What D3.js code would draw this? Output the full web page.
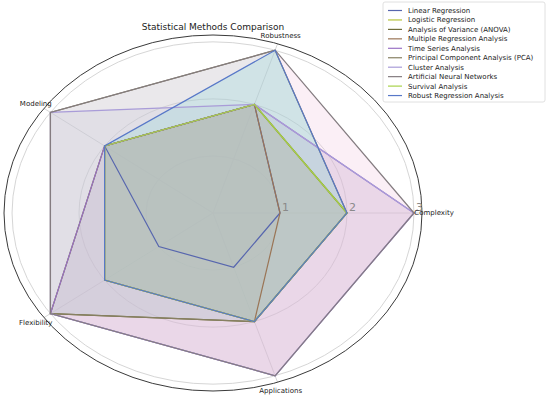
<!DOCTYPE html>
<html>
<head>
<meta charset="utf-8">
<script src="https://cdn.jsdelivr.net/npm/d3@7"></script>
<style>
  body { margin: 0; background: #fff; }
  svg { display: block; font-family: "DejaVu Sans", sans-serif; }
</style>
</head>
<body>
<svg id="chart" width="550" height="396"></svg>
<script>
// axes of the radar
const axes = ["Complexity", "Robustness", "Modeling", "Flexibility", "Applications"];
const rTicks = [1, 2, 3];

const methods = [
  "Linear Regression", "Logistic Regression", "Analysis of Variance (ANOVA)",
  "Multiple Regression Analysis", "Time Series Analysis",
  "Principal Component Analysis (PCA)", "Cluster Analysis",
  "Artificial Neural Networks", "Survival Analysis", "Robust Regression Analysis"
];

// scores per method, in axes order
const linearReg   = [1, 2, 2, 1, 1];
const logisticReg = [2, 2, 2, 2, 2];
const anova       = [2, 2, 2, 3, 2];
const multipleReg = [1, 2, 2, 2, 2];
const timeSeries  = [3, 2, 2, 3, 3];
const pca         = [2, 3, 3, 3, 2];
const cluster     = [3, 2, 3, 3, 3];
const ann         = [3, 3, 3, 3, 3];
const survival    = [2, 2, 2, 2, 2];
const robustReg   = [2, 3, 2, 2, 2];
const scores = [linearReg, logisticReg, anova, multipleReg, timeSeries,
                pca, cluster, ann, survival, robustReg];

const lineColors = ["#5766ae", "#b6c43c", "#6f6d3a", "#9a7556", "#9a72c6",
                    "#878062", "#a99cd8", "#847c80", "#a8d24a", "#5878c8"];
const fillColors = ["#8e9cb8", "#ccb878", "#98acbc", "#b08a6a", "#e4a0d0",
                    "#a4dcc8", "#b8c8d8", "#f0c0da", "#ccb084", "#84d4d8"];

const cx = 213, cy = 213;
const rMax = 3.12;
const rx = d3.scaleLinear().domain([0, rMax]).range([0, 209]);
const ry = d3.scaleLinear().domain([0, rMax]).range([0, 178]);
const angle = d3.scaleLinear().domain([0, axes.length]).range([0, 2 * Math.PI]);

function px(i, v) { return cx + rx(v) * Math.cos(angle(i)); }
function py(i, v) { return cy - ry(v) * Math.sin(angle(i)); }
const shape = s => d3.line()(s.map((v, i) => [px(i, v), py(i, v)])) + "Z";

const svg = d3.select("#chart");

// grid rings
svg.append("g").selectAll("ellipse").data(rTicks).join("ellipse")
  .attr("cx", cx).attr("cy", cy)
  .attr("rx", d => rx(d)).attr("ry", d => ry(d))
  .attr("fill", "none").attr("stroke", "#d6d6d6").attr("stroke-width", 1);

// spokes
svg.append("g").selectAll("line").data(axes).join("line")
  .attr("x1", cx).attr("y1", cy)
  .attr("x2", (d, i) => px(i, rMax)).attr("y2", (d, i) => py(i, rMax))
  .attr("stroke", "#d6d6d6").attr("stroke-width", 1);

// fills under all outlines (like matplotlib zorder)
svg.append("g").selectAll("path").data(scores).join("path")
  .attr("d", shape)
  .attr("fill", (d, k) => fillColors[k]).attr("fill-opacity", 0.25)
  .attr("stroke", "none");

svg.append("g").selectAll("path").data(scores).join("path")
  .attr("d", shape)
  .attr("fill", "none")
  .attr("stroke", (d, k) => lineColors[k]).attr("stroke-width", 1.2);

// outer frame
svg.append("ellipse")
  .attr("cx", cx).attr("cy", cy).attr("rx", rx(rMax)).attr("ry", ry(rMax))
  .attr("fill", "none").attr("stroke", "#3a3a3a").attr("stroke-width", 1);

// radial tick labels
svg.append("g").selectAll("text").data(rTicks).join("text")
  .attr("x", d => cx + rx(d) + 2).attr("y", cy - 2)
  .attr("font-size", 11).attr("fill", "#8a8a8a")
  .text(d => d);

// axis labels
const labelR = 3.27;
svg.append("g").selectAll("text").data(axes).join("text")
  .attr("x", (d, i) => px(i, i === 0 ? 3.3 : labelR))
  .attr("y", (d, i) => py(i, i === 0 ? 0 : labelR))
  .attr("dy", "0.35em")
  .attr("text-anchor", "middle")
  .attr("font-size", 7).attr("fill", "#222")
  .text(d => d);

// title
svg.append("text").attr("x", cx).attr("y", 30)
  .attr("text-anchor", "middle").attr("font-size", 9).attr("fill", "#222")
  .text("Statistical Methods Comparison");

// legend
const lg = svg.append("g").attr("transform", "translate(383,2)");
lg.append("rect").attr("width", 162).attr("height", 100).attr("rx", 2)
  .attr("fill", "#fff").attr("fill-opacity", 0.85)
  .attr("stroke", "#d8d8d8").attr("stroke-width", 0.8);
const items = lg.selectAll("g.item").data(methods).join("g")
  .attr("class", "item")
  .attr("transform", (d, i) => `translate(0,${8.5 + i * 9.45})`);
items.append("line").attr("x1", 5).attr("x2", 19)
  .attr("stroke", (d, i) => lineColors[i]).attr("stroke-width", 1.2);
items.append("text").attr("x", 25).attr("y", 2.5)
  .attr("font-size", 7).attr("fill", "#222").text(d => d);
</script>
</body>
</html>
